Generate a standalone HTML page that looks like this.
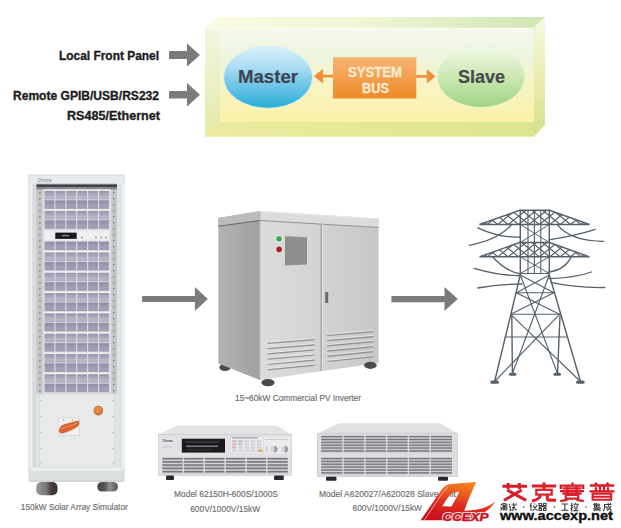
<!DOCTYPE html>
<html><head><meta charset="utf-8">
<style>
html,body{margin:0;padding:0;background:#fff;width:621px;height:528px;overflow:hidden}
svg{display:block}
text{font-family:"Liberation Sans",sans-serif}
</style></head>
<body>
<svg width="621" height="528" viewBox="0 0 621 528">
<defs>
  <linearGradient id="gTop" x1="0" y1="0" x2="1" y2="0">
    <stop offset="0" stop-color="#fbfbe2"/><stop offset="0.5" stop-color="#eef5d4"/><stop offset="1" stop-color="#cfe6b2"/>
  </linearGradient>
  <linearGradient id="gFront" x1="0" y1="0" x2="0" y2="1">
    <stop offset="0" stop-color="#f6f9ee"/><stop offset="0.25" stop-color="#eef5df"/><stop offset="0.6" stop-color="#f9f4be"/><stop offset="1" stop-color="#fcf19a"/>
  </linearGradient>
  <linearGradient id="gLeft" x1="0" y1="0" x2="0" y2="1">
    <stop offset="0" stop-color="#f3f6e2"/><stop offset="1" stop-color="#e4e9a6"/>
  </linearGradient>
  <linearGradient id="gBot" x1="0" y1="0" x2="1" y2="0">
    <stop offset="0" stop-color="#eceb9e"/><stop offset="1" stop-color="#dde590"/>
  </linearGradient>
  <linearGradient id="gRight" x1="0" y1="0" x2="0" y2="1">
    <stop offset="0" stop-color="#f6f8e6"/><stop offset="0.25" stop-color="#f0f2c8"/><stop offset="0.65" stop-color="#e8e9a2"/><stop offset="1" stop-color="#d2e08e"/>
  </linearGradient>
  <linearGradient id="gMaster" x1="0" y1="0" x2="0" y2="1">
    <stop offset="0" stop-color="#d8f0fb"/><stop offset="0.3" stop-color="#b2e0f4"/><stop offset="0.62" stop-color="#72c6e8"/><stop offset="1" stop-color="#26add6"/>
  </linearGradient>
  <linearGradient id="gSlave" x1="0" y1="0" x2="0" y2="1">
    <stop offset="0" stop-color="#f3f9ec"/><stop offset="0.45" stop-color="#d0eab8"/><stop offset="1" stop-color="#9fd484"/>
  </linearGradient>
  <linearGradient id="gBus" x1="0" y1="0" x2="0" y2="1">
    <stop offset="0" stop-color="#f8b476"/><stop offset="1" stop-color="#ee8a26"/>
  </linearGradient>
  <linearGradient id="gInvSide" x1="0" y1="0" x2="1" y2="0">
    <stop offset="0" stop-color="#b3b3b3"/><stop offset="1" stop-color="#a0a0a0"/>
  </linearGradient>
  <linearGradient id="gInvFront" x1="0" y1="0" x2="1" y2="0">
    <stop offset="0" stop-color="#dcdcdc"/><stop offset="0.5" stop-color="#d3d3d3"/><stop offset="1" stop-color="#c7c7c7"/>
  </linearGradient>
  <linearGradient id="gCell" x1="0" y1="0" x2="0" y2="1">
    <stop offset="0" stop-color="#928ca6"/><stop offset="0.3" stop-color="#9a94ae"/><stop offset="0.6" stop-color="#a49eb6"/><stop offset="1" stop-color="#a09ab2"/>
  </linearGradient>
  <linearGradient id="gCell1" x1="0" y1="0" x2="0" y2="1">
    <stop offset="0" stop-color="#9a94ac"/><stop offset="0.35" stop-color="#aaa4ba"/><stop offset="0.7" stop-color="#bbb6c8"/><stop offset="1" stop-color="#b0aabf"/>
  </linearGradient>
  <linearGradient id="gLogoA" x1="0.75" y1="0" x2="0.35" y2="1">
    <stop offset="0" stop-color="#f48a20"/><stop offset="0.35" stop-color="#ec5a1e"/><stop offset="0.6" stop-color="#e02a20"/><stop offset="1" stop-color="#c8101e"/>
  </linearGradient>
</defs>
<g font-weight="bold" font-size="12.6" fill="#1e1e1e" stroke="#1e1e1e" stroke-width="0.35">
  <text x="59" y="59.6" textLength="100" lengthAdjust="spacingAndGlyphs">Local Front Panel</text>
  <text x="13" y="99.6" textLength="146" lengthAdjust="spacingAndGlyphs">Remote GPIB/USB/RS232</text>
  <text x="67" y="120" textLength="93" lengthAdjust="spacingAndGlyphs">RS485/Ethernet</text>
</g>
<g fill="#7b7b7b">
  <polygon points="169,51 187,51 187,43.5 200,55 187,66.5 187,59 169,59"/>
  <polygon points="169,91 187,91 187,83 200,94.7 187,106.4 187,98.5 169,98.5"/>
</g>
<polygon points="205,28 217,17 545,17 534,28" fill="url(#gTop)"/>
<polygon points="534,28 545,17 545,125 534,136.5" fill="url(#gRight)"/>
<rect x="205" y="28" width="329" height="108.5" fill="url(#gFront)"/>
<polygon points="205,28 220,31 220,122 205,136.5" fill="url(#gLeft)"/>
<polygon points="205,136.5 220,122 534,122 534,136.5" fill="url(#gBot)"/>
<line x1="206" y1="28.3" x2="534" y2="28.3" stroke="#fbfdf4" stroke-width="1.2"/>
<line x1="534.3" y1="28" x2="545" y2="17.3" stroke="#f6faea" stroke-width="1"/>
<ellipse cx="268" cy="77.3" rx="44.5" ry="31" fill="url(#gMaster)" stroke="#d8f2f6" stroke-width="1"/>
<ellipse cx="481" cy="76.5" rx="44" ry="31" fill="url(#gSlave)" stroke="#eef6d8" stroke-width="1"/>
<text x="238" y="82.8" font-weight="bold" font-size="18" fill="#3e4450" stroke="#3e4450" stroke-width="0.2" textLength="60" lengthAdjust="spacingAndGlyphs">Master</text>
<text x="458" y="82.8" font-weight="bold" font-size="18" fill="#464a4e" stroke="#464a4e" stroke-width="0.2" textLength="47" lengthAdjust="spacingAndGlyphs">Slave</text>
<rect x="333" y="57.2" width="83.3" height="41.3" fill="url(#gBus)"/>
<g font-weight="bold" font-size="14" fill="#fdecd2" stroke="#fdecd2" stroke-width="0.3">
  <text x="348" y="76.6" textLength="54" lengthAdjust="spacingAndGlyphs">SYSTEM</text>
  <text x="362" y="92.7" textLength="27" lengthAdjust="spacingAndGlyphs">BUS</text>
</g>
<g fill="#f0903a">
  <polygon points="314,76.2 323,68.8 323,74.8 333,74.8 333,77.6 323,77.6 323,83.6"/>
  <polygon points="435.6,76.4 426.8,69.2 426.8,75 416.3,75 416.3,77.8 426.8,77.8 426.8,83.6"/>
</g>
<g id="rack"><rect x="29" y="175" width="95" height="306" fill="#e2e6e8"/><rect x="29" y="175" width="95" height="9" fill="#e6ebee"/><rect x="29" y="175" width="95" height="306" fill="none" stroke="#c8ccd0" stroke-width="0.8"/><text x="37.5" y="181.8" font-size="4.6" fill="#7a8088" textLength="14" lengthAdjust="spacingAndGlyphs">Chroma</text><rect x="29.5" y="184" width="3" height="284" fill="#eaeef0"/><rect x="32.5" y="184" width="4" height="284" fill="#d6dadd"/><rect x="117" y="184" width="5" height="284" fill="#dfe3e6"/><rect x="122" y="184" width="2" height="284" fill="#f0f2f4"/><rect x="36.5" y="184" width="7" height="210" fill="#c2c4c6"/><rect x="110.3" y="184" width="6.5" height="210" fill="#c2c4c6"/><rect x="42.5" y="189" width="1.2" height="205" fill="#e0e0e4"/><rect x="110.2" y="189" width="1.2" height="205" fill="#e0e0e4"/><rect x="39.2" y="192" width="1.4" height="1.4" fill="#85858b"/><rect x="113" y="192" width="1.4" height="1.4" fill="#85858b"/><rect x="39.2" y="198" width="1.4" height="1.4" fill="#85858b"/><rect x="113" y="198" width="1.4" height="1.4" fill="#85858b"/><rect x="39.2" y="204" width="1.4" height="1.4" fill="#85858b"/><rect x="113" y="204" width="1.4" height="1.4" fill="#85858b"/><rect x="39.2" y="210" width="1.4" height="1.4" fill="#85858b"/><rect x="113" y="210" width="1.4" height="1.4" fill="#85858b"/><rect x="39.2" y="216" width="1.4" height="1.4" fill="#85858b"/><rect x="113" y="216" width="1.4" height="1.4" fill="#85858b"/><rect x="39.2" y="222" width="1.4" height="1.4" fill="#85858b"/><rect x="113" y="222" width="1.4" height="1.4" fill="#85858b"/><rect x="39.2" y="228" width="1.4" height="1.4" fill="#85858b"/><rect x="113" y="228" width="1.4" height="1.4" fill="#85858b"/><rect x="39.2" y="234" width="1.4" height="1.4" fill="#85858b"/><rect x="113" y="234" width="1.4" height="1.4" fill="#85858b"/><rect x="39.2" y="240" width="1.4" height="1.4" fill="#85858b"/><rect x="113" y="240" width="1.4" height="1.4" fill="#85858b"/><rect x="39.2" y="246" width="1.4" height="1.4" fill="#85858b"/><rect x="113" y="246" width="1.4" height="1.4" fill="#85858b"/><rect x="39.2" y="252" width="1.4" height="1.4" fill="#85858b"/><rect x="113" y="252" width="1.4" height="1.4" fill="#85858b"/><rect x="39.2" y="258" width="1.4" height="1.4" fill="#85858b"/><rect x="113" y="258" width="1.4" height="1.4" fill="#85858b"/><rect x="39.2" y="264" width="1.4" height="1.4" fill="#85858b"/><rect x="113" y="264" width="1.4" height="1.4" fill="#85858b"/><rect x="39.2" y="270" width="1.4" height="1.4" fill="#85858b"/><rect x="113" y="270" width="1.4" height="1.4" fill="#85858b"/><rect x="39.2" y="276" width="1.4" height="1.4" fill="#85858b"/><rect x="113" y="276" width="1.4" height="1.4" fill="#85858b"/><rect x="39.2" y="282" width="1.4" height="1.4" fill="#85858b"/><rect x="113" y="282" width="1.4" height="1.4" fill="#85858b"/><rect x="39.2" y="288" width="1.4" height="1.4" fill="#85858b"/><rect x="113" y="288" width="1.4" height="1.4" fill="#85858b"/><rect x="39.2" y="294" width="1.4" height="1.4" fill="#85858b"/><rect x="113" y="294" width="1.4" height="1.4" fill="#85858b"/><rect x="39.2" y="300" width="1.4" height="1.4" fill="#85858b"/><rect x="113" y="300" width="1.4" height="1.4" fill="#85858b"/><rect x="39.2" y="306" width="1.4" height="1.4" fill="#85858b"/><rect x="113" y="306" width="1.4" height="1.4" fill="#85858b"/><rect x="39.2" y="312" width="1.4" height="1.4" fill="#85858b"/><rect x="113" y="312" width="1.4" height="1.4" fill="#85858b"/><rect x="39.2" y="318" width="1.4" height="1.4" fill="#85858b"/><rect x="113" y="318" width="1.4" height="1.4" fill="#85858b"/><rect x="39.2" y="324" width="1.4" height="1.4" fill="#85858b"/><rect x="113" y="324" width="1.4" height="1.4" fill="#85858b"/><rect x="39.2" y="330" width="1.4" height="1.4" fill="#85858b"/><rect x="113" y="330" width="1.4" height="1.4" fill="#85858b"/><rect x="39.2" y="336" width="1.4" height="1.4" fill="#85858b"/><rect x="113" y="336" width="1.4" height="1.4" fill="#85858b"/><rect x="39.2" y="342" width="1.4" height="1.4" fill="#85858b"/><rect x="113" y="342" width="1.4" height="1.4" fill="#85858b"/><rect x="39.2" y="348" width="1.4" height="1.4" fill="#85858b"/><rect x="113" y="348" width="1.4" height="1.4" fill="#85858b"/><rect x="39.2" y="354" width="1.4" height="1.4" fill="#85858b"/><rect x="113" y="354" width="1.4" height="1.4" fill="#85858b"/><rect x="39.2" y="360" width="1.4" height="1.4" fill="#85858b"/><rect x="113" y="360" width="1.4" height="1.4" fill="#85858b"/><rect x="39.2" y="366" width="1.4" height="1.4" fill="#85858b"/><rect x="113" y="366" width="1.4" height="1.4" fill="#85858b"/><rect x="39.2" y="372" width="1.4" height="1.4" fill="#85858b"/><rect x="113" y="372" width="1.4" height="1.4" fill="#85858b"/><rect x="39.2" y="378" width="1.4" height="1.4" fill="#85858b"/><rect x="113" y="378" width="1.4" height="1.4" fill="#85858b"/><rect x="39.2" y="384" width="1.4" height="1.4" fill="#85858b"/><rect x="113" y="384" width="1.4" height="1.4" fill="#85858b"/><rect x="39.2" y="390" width="1.4" height="1.4" fill="#85858b"/><rect x="113" y="390" width="1.4" height="1.4" fill="#85858b"/><rect x="36.5" y="183.6" width="80.5" height="0.8" fill="#a8b0b4"/><rect x="36.5" y="184.4" width="80.5" height="2.8" fill="#404146"/><rect x="36.5" y="187.2" width="80.5" height="2.2" fill="#808086"/><rect x="43.5" y="189.5" width="66.8" height="204" fill="#dcdce2"/><rect x="44" y="189.50" width="66" height="1.8" fill="#f6f6f8"/><rect x="44.60" y="190.80" width="9.8" height="8.6" fill="url(#gCell1)"/><rect x="44.60" y="200.30" width="9.8" height="8.5" fill="url(#gCell)"/><rect x="55.50" y="190.80" width="9.8" height="8.6" fill="url(#gCell1)"/><rect x="55.50" y="200.30" width="9.8" height="8.5" fill="url(#gCell)"/><rect x="66.40" y="190.80" width="9.8" height="8.6" fill="url(#gCell1)"/><rect x="66.40" y="200.30" width="9.8" height="8.5" fill="url(#gCell)"/><rect x="77.30" y="190.80" width="9.8" height="8.6" fill="url(#gCell1)"/><rect x="77.30" y="200.30" width="9.8" height="8.5" fill="url(#gCell)"/><rect x="88.20" y="190.80" width="9.8" height="8.6" fill="url(#gCell1)"/><rect x="88.20" y="200.30" width="9.8" height="8.5" fill="url(#gCell)"/><rect x="99.10" y="190.80" width="9.8" height="8.6" fill="url(#gCell1)"/><rect x="99.10" y="200.30" width="9.8" height="8.5" fill="url(#gCell)"/><rect x="44" y="209.50" width="66" height="1.8" fill="#f6f6f8"/><rect x="44.60" y="210.80" width="9.8" height="8.6" fill="url(#gCell1)"/><rect x="44.60" y="220.30" width="9.8" height="8.5" fill="url(#gCell)"/><rect x="55.50" y="210.80" width="9.8" height="8.6" fill="url(#gCell1)"/><rect x="55.50" y="220.30" width="9.8" height="8.5" fill="url(#gCell)"/><rect x="66.40" y="210.80" width="9.8" height="8.6" fill="url(#gCell1)"/><rect x="66.40" y="220.30" width="9.8" height="8.5" fill="url(#gCell)"/><rect x="77.30" y="210.80" width="9.8" height="8.6" fill="url(#gCell1)"/><rect x="77.30" y="220.30" width="9.8" height="8.5" fill="url(#gCell)"/><rect x="88.20" y="210.80" width="9.8" height="8.6" fill="url(#gCell1)"/><rect x="88.20" y="220.30" width="9.8" height="8.5" fill="url(#gCell)"/><rect x="99.10" y="210.80" width="9.8" height="8.6" fill="url(#gCell1)"/><rect x="99.10" y="220.30" width="9.8" height="8.5" fill="url(#gCell)"/><rect x="44" y="230.5" width="65.5" height="10" fill="#efeff1"/><rect x="55.3" y="232.6" width="21.4" height="6.3" fill="#1c1c20"/><rect x="62" y="235" width="7" height="1.2" fill="#8a8aa0"/><circle cx="82" cy="237.5" r="0.9" fill="#9a9aa0"/><circle cx="96" cy="237.5" r="0.9" fill="#9a9aa0"/><circle cx="101" cy="237.5" r="0.9" fill="#9a9aa0"/><circle cx="106" cy="237.5" r="0.9" fill="#9a9aa0"/><rect x="44.60" y="241.60" width="9.8" height="8.4" fill="url(#gCell)"/><rect x="55.50" y="241.60" width="9.8" height="8.4" fill="url(#gCell)"/><rect x="66.40" y="241.60" width="9.8" height="8.4" fill="url(#gCell)"/><rect x="77.30" y="241.60" width="9.8" height="8.4" fill="url(#gCell)"/><rect x="88.20" y="241.60" width="9.8" height="8.4" fill="url(#gCell)"/><rect x="99.10" y="241.60" width="9.8" height="8.4" fill="url(#gCell)"/><rect x="44" y="251.10" width="66" height="1.8" fill="#f6f6f8"/><rect x="44.60" y="252.40" width="9.8" height="8.6" fill="url(#gCell1)"/><rect x="44.60" y="261.90" width="9.8" height="8.5" fill="url(#gCell)"/><rect x="55.50" y="252.40" width="9.8" height="8.6" fill="url(#gCell1)"/><rect x="55.50" y="261.90" width="9.8" height="8.5" fill="url(#gCell)"/><rect x="66.40" y="252.40" width="9.8" height="8.6" fill="url(#gCell1)"/><rect x="66.40" y="261.90" width="9.8" height="8.5" fill="url(#gCell)"/><rect x="77.30" y="252.40" width="9.8" height="8.6" fill="url(#gCell1)"/><rect x="77.30" y="261.90" width="9.8" height="8.5" fill="url(#gCell)"/><rect x="88.20" y="252.40" width="9.8" height="8.6" fill="url(#gCell1)"/><rect x="88.20" y="261.90" width="9.8" height="8.5" fill="url(#gCell)"/><rect x="99.10" y="252.40" width="9.8" height="8.6" fill="url(#gCell1)"/><rect x="99.10" y="261.90" width="9.8" height="8.5" fill="url(#gCell)"/><rect x="44" y="271.40" width="66" height="1.8" fill="#f6f6f8"/><rect x="44.60" y="272.70" width="9.8" height="8.6" fill="url(#gCell1)"/><rect x="44.60" y="282.20" width="9.8" height="8.5" fill="url(#gCell)"/><rect x="55.50" y="272.70" width="9.8" height="8.6" fill="url(#gCell1)"/><rect x="55.50" y="282.20" width="9.8" height="8.5" fill="url(#gCell)"/><rect x="66.40" y="272.70" width="9.8" height="8.6" fill="url(#gCell1)"/><rect x="66.40" y="282.20" width="9.8" height="8.5" fill="url(#gCell)"/><rect x="77.30" y="272.70" width="9.8" height="8.6" fill="url(#gCell1)"/><rect x="77.30" y="282.20" width="9.8" height="8.5" fill="url(#gCell)"/><rect x="88.20" y="272.70" width="9.8" height="8.6" fill="url(#gCell1)"/><rect x="88.20" y="282.20" width="9.8" height="8.5" fill="url(#gCell)"/><rect x="99.10" y="272.70" width="9.8" height="8.6" fill="url(#gCell1)"/><rect x="99.10" y="282.20" width="9.8" height="8.5" fill="url(#gCell)"/><rect x="44" y="291.70" width="66" height="1.8" fill="#f6f6f8"/><rect x="44.60" y="293.00" width="9.8" height="8.6" fill="url(#gCell1)"/><rect x="44.60" y="302.50" width="9.8" height="8.5" fill="url(#gCell)"/><rect x="55.50" y="293.00" width="9.8" height="8.6" fill="url(#gCell1)"/><rect x="55.50" y="302.50" width="9.8" height="8.5" fill="url(#gCell)"/><rect x="66.40" y="293.00" width="9.8" height="8.6" fill="url(#gCell1)"/><rect x="66.40" y="302.50" width="9.8" height="8.5" fill="url(#gCell)"/><rect x="77.30" y="293.00" width="9.8" height="8.6" fill="url(#gCell1)"/><rect x="77.30" y="302.50" width="9.8" height="8.5" fill="url(#gCell)"/><rect x="88.20" y="293.00" width="9.8" height="8.6" fill="url(#gCell1)"/><rect x="88.20" y="302.50" width="9.8" height="8.5" fill="url(#gCell)"/><rect x="99.10" y="293.00" width="9.8" height="8.6" fill="url(#gCell1)"/><rect x="99.10" y="302.50" width="9.8" height="8.5" fill="url(#gCell)"/><rect x="44" y="312.00" width="66" height="1.8" fill="#f6f6f8"/><rect x="44.60" y="313.30" width="9.8" height="8.6" fill="url(#gCell1)"/><rect x="44.60" y="322.80" width="9.8" height="8.5" fill="url(#gCell)"/><rect x="55.50" y="313.30" width="9.8" height="8.6" fill="url(#gCell1)"/><rect x="55.50" y="322.80" width="9.8" height="8.5" fill="url(#gCell)"/><rect x="66.40" y="313.30" width="9.8" height="8.6" fill="url(#gCell1)"/><rect x="66.40" y="322.80" width="9.8" height="8.5" fill="url(#gCell)"/><rect x="77.30" y="313.30" width="9.8" height="8.6" fill="url(#gCell1)"/><rect x="77.30" y="322.80" width="9.8" height="8.5" fill="url(#gCell)"/><rect x="88.20" y="313.30" width="9.8" height="8.6" fill="url(#gCell1)"/><rect x="88.20" y="322.80" width="9.8" height="8.5" fill="url(#gCell)"/><rect x="99.10" y="313.30" width="9.8" height="8.6" fill="url(#gCell1)"/><rect x="99.10" y="322.80" width="9.8" height="8.5" fill="url(#gCell)"/><rect x="44" y="332.30" width="66" height="1.8" fill="#f6f6f8"/><rect x="44.60" y="333.60" width="9.8" height="8.6" fill="url(#gCell1)"/><rect x="44.60" y="343.10" width="9.8" height="8.5" fill="url(#gCell)"/><rect x="55.50" y="333.60" width="9.8" height="8.6" fill="url(#gCell1)"/><rect x="55.50" y="343.10" width="9.8" height="8.5" fill="url(#gCell)"/><rect x="66.40" y="333.60" width="9.8" height="8.6" fill="url(#gCell1)"/><rect x="66.40" y="343.10" width="9.8" height="8.5" fill="url(#gCell)"/><rect x="77.30" y="333.60" width="9.8" height="8.6" fill="url(#gCell1)"/><rect x="77.30" y="343.10" width="9.8" height="8.5" fill="url(#gCell)"/><rect x="88.20" y="333.60" width="9.8" height="8.6" fill="url(#gCell1)"/><rect x="88.20" y="343.10" width="9.8" height="8.5" fill="url(#gCell)"/><rect x="99.10" y="333.60" width="9.8" height="8.6" fill="url(#gCell1)"/><rect x="99.10" y="343.10" width="9.8" height="8.5" fill="url(#gCell)"/><rect x="44" y="352.60" width="66" height="1.8" fill="#f6f6f8"/><rect x="44.60" y="353.90" width="9.8" height="8.6" fill="url(#gCell1)"/><rect x="44.60" y="363.40" width="9.8" height="8.5" fill="url(#gCell)"/><rect x="55.50" y="353.90" width="9.8" height="8.6" fill="url(#gCell1)"/><rect x="55.50" y="363.40" width="9.8" height="8.5" fill="url(#gCell)"/><rect x="66.40" y="353.90" width="9.8" height="8.6" fill="url(#gCell1)"/><rect x="66.40" y="363.40" width="9.8" height="8.5" fill="url(#gCell)"/><rect x="77.30" y="353.90" width="9.8" height="8.6" fill="url(#gCell1)"/><rect x="77.30" y="363.40" width="9.8" height="8.5" fill="url(#gCell)"/><rect x="88.20" y="353.90" width="9.8" height="8.6" fill="url(#gCell1)"/><rect x="88.20" y="363.40" width="9.8" height="8.5" fill="url(#gCell)"/><rect x="99.10" y="353.90" width="9.8" height="8.6" fill="url(#gCell1)"/><rect x="99.10" y="363.40" width="9.8" height="8.5" fill="url(#gCell)"/><rect x="44" y="372.90" width="66" height="1.8" fill="#f6f6f8"/><rect x="44.60" y="374.20" width="9.8" height="8.6" fill="url(#gCell1)"/><rect x="44.60" y="383.70" width="9.8" height="8.5" fill="url(#gCell)"/><rect x="55.50" y="374.20" width="9.8" height="8.6" fill="url(#gCell1)"/><rect x="55.50" y="383.70" width="9.8" height="8.5" fill="url(#gCell)"/><rect x="66.40" y="374.20" width="9.8" height="8.6" fill="url(#gCell1)"/><rect x="66.40" y="383.70" width="9.8" height="8.5" fill="url(#gCell)"/><rect x="77.30" y="374.20" width="9.8" height="8.6" fill="url(#gCell1)"/><rect x="77.30" y="383.70" width="9.8" height="8.5" fill="url(#gCell)"/><rect x="88.20" y="374.20" width="9.8" height="8.6" fill="url(#gCell1)"/><rect x="88.20" y="383.70" width="9.8" height="8.5" fill="url(#gCell)"/><rect x="99.10" y="374.20" width="9.8" height="8.6" fill="url(#gCell1)"/><rect x="99.10" y="383.70" width="9.8" height="8.5" fill="url(#gCell)"/><rect x="36.5" y="393.5" width="80.5" height="74" fill="#e1e3e4"/><rect x="39.5" y="394" width="75" height="73" fill="#e8eaea" stroke="#d0d2d4" stroke-width="0.6"/><rect x="40.6" y="400" width="1.1" height="1.1" fill="#a8aaac"/><rect x="112.4" y="400" width="1.1" height="1.1" fill="#a8aaac"/><rect x="40.6" y="416" width="1.1" height="1.1" fill="#a8aaac"/><rect x="112.4" y="416" width="1.1" height="1.1" fill="#a8aaac"/><rect x="40.6" y="432" width="1.1" height="1.1" fill="#a8aaac"/><rect x="112.4" y="432" width="1.1" height="1.1" fill="#a8aaac"/><rect x="40.6" y="448" width="1.1" height="1.1" fill="#a8aaac"/><rect x="112.4" y="448" width="1.1" height="1.1" fill="#a8aaac"/><rect x="40.6" y="462" width="1.1" height="1.1" fill="#a8aaac"/><rect x="112.4" y="462" width="1.1" height="1.1" fill="#a8aaac"/><rect x="58.2" y="418" width="21.5" height="17.5" fill="#f0f0f0" stroke="#cfcfd1" stroke-width="0.6"/><rect x="63" y="419.5" width="1.2" height="1.2" fill="#d08060"/><rect x="72" y="419.5" width="1.2" height="1.2" fill="#d08060"/><path d="M59,431 C59,426.5 62,424.5 67,423.5 C71.5,422.5 76,421 78.8,420.5 C79.8,422.5 79.5,425 77.5,426.8 C74,429.5 68,432 62,433.5 C60.5,433.8 59.2,432.8 59,431 Z" fill="#d8642e"/><path d="M61,429 C65,427 71,426 77,423.3" stroke="#ee9868" stroke-width="1" fill="none"/><circle cx="98.3" cy="410.6" r="4.8" fill="#c86a34"/><circle cx="98" cy="410.2" r="3.6" fill="#e48a48"/><rect x="30" y="467.5" width="93" height="14" fill="#dcdfe0"/><rect x="30" y="467.5" width="93" height="3.5" fill="#eceeef"/><rect x="30" y="480.6" width="93" height="0.9" fill="#c4c6c8"/><linearGradient id="gWL" x1="0" y1="0" x2="1" y2="0"><stop offset="0" stop-color="#9a9a98"/><stop offset="0.45" stop-color="#7e7c7a"/><stop offset="0.7" stop-color="#4a3e3c"/><stop offset="1" stop-color="#3a302e"/></linearGradient><linearGradient id="gWR" x1="0" y1="0" x2="1" y2="0"><stop offset="0" stop-color="#4a4242"/><stop offset="0.35" stop-color="#5a5454"/><stop offset="0.6" stop-color="#8e8e8e"/><stop offset="1" stop-color="#5a5656"/></linearGradient><rect x="36.2" y="482" width="21.3" height="13.2" rx="5" fill="url(#gWL)"/><rect x="97.3" y="482" width="20.6" height="9.6" rx="4.5" fill="url(#gWR)"/></g><g fill="#7b7b7b"><polygon points="142.1,296.1 194.9,296.1 194.9,287.1 207.8,299 194.9,310.9 194.9,302 142.1,302"/><polygon points="391.4,296.1 444.5,296.1 444.5,287.1 457.8,299 444.5,310.9 444.5,302.2 391.4,302.2"/></g><g id="inverter"><ellipse cx="225" cy="367.4" rx="5.6" ry="3.6" fill="#4a4a4c"/><polygon points="218.3,218 259.8,211 259.8,380 218.3,363.5" fill="url(#gInvSide)"/><polygon points="218.3,218 259.8,211 259.8,220.5 218.3,226.3" fill="#bcbcbc"/><line x1="218.3" y1="226.3" x2="259.8" y2="220.5" stroke="#5a5a5a" stroke-width="0.9"/><polygon points="259.8,211 378.6,218.5 378.6,363 259.8,380" fill="url(#gInvFront)"/><polygon points="259.8,211 378.6,218.5 378.6,227.5 259.8,220.5" fill="#dcdcdc"/><line x1="259.8" y1="211.4" x2="378.6" y2="218.9" stroke="#ececec" stroke-width="0.8"/><line x1="259.8" y1="220.5" x2="378.6" y2="227.5" stroke="#8a8a8a" stroke-width="0.9"/><line x1="259.8" y1="211.5" x2="259.8" y2="380" stroke="#9a9a9a" stroke-width="0.6"/><line x1="321.2" y1="224.5" x2="321.2" y2="371" stroke="#8c8c8c" stroke-width="1"/><line x1="322.4" y1="224.5" x2="322.4" y2="371" stroke="#ececec" stroke-width="0.8"/><polygon points="285,236.3 307,237.3 307,264.5 285,265.6" fill="#8e8e8e"/><circle cx="279.1" cy="238.8" r="3.7" fill="#eef2ee"/><circle cx="279.1" cy="238.8" r="2.8" fill="#3cac4c"/><circle cx="279.1" cy="249.4" r="3.7" fill="#f4e8e8"/><circle cx="279.1" cy="249.4" r="2.8" fill="#a81c22"/><rect x="325.2" y="292" width="3" height="11" fill="#6a6a6a"/><line x1="267.6" y1="342.1" x2="314.6" y2="338.5" stroke="#e6e6e6" stroke-width="1.4"/><line x1="267.6" y1="343.3" x2="314.6" y2="339.7" stroke="#909090" stroke-width="1.2"/><line x1="327.2" y1="334.3" x2="373.2" y2="330.5" stroke="#e2e2e2" stroke-width="1.4"/><line x1="327.2" y1="335.5" x2="373.2" y2="331.7" stroke="#8e8e8e" stroke-width="1.2"/><line x1="267.6" y1="347.4" x2="314.6" y2="343.6" stroke="#e6e6e6" stroke-width="1.4"/><line x1="267.6" y1="348.6" x2="314.6" y2="344.8" stroke="#909090" stroke-width="1.2"/><line x1="327.2" y1="339.5" x2="373.2" y2="335.5" stroke="#e2e2e2" stroke-width="1.4"/><line x1="327.2" y1="340.7" x2="373.2" y2="336.7" stroke="#8e8e8e" stroke-width="1.2"/><line x1="267.6" y1="352.7" x2="314.6" y2="348.7" stroke="#e6e6e6" stroke-width="1.4"/><line x1="267.6" y1="353.9" x2="314.6" y2="349.9" stroke="#909090" stroke-width="1.2"/><line x1="327.2" y1="344.7" x2="373.2" y2="340.5" stroke="#e2e2e2" stroke-width="1.4"/><line x1="327.2" y1="345.9" x2="373.2" y2="341.7" stroke="#8e8e8e" stroke-width="1.2"/><line x1="267.6" y1="358.0" x2="314.6" y2="353.8" stroke="#e6e6e6" stroke-width="1.4"/><line x1="267.6" y1="359.2" x2="314.6" y2="355.0" stroke="#909090" stroke-width="1.2"/><line x1="327.2" y1="349.9" x2="373.2" y2="345.5" stroke="#e2e2e2" stroke-width="1.4"/><line x1="327.2" y1="351.1" x2="373.2" y2="346.7" stroke="#8e8e8e" stroke-width="1.2"/><line x1="267.6" y1="363.3" x2="314.6" y2="358.9" stroke="#e6e6e6" stroke-width="1.4"/><line x1="267.6" y1="364.5" x2="314.6" y2="360.1" stroke="#909090" stroke-width="1.2"/><line x1="327.2" y1="355.1" x2="373.2" y2="350.5" stroke="#e2e2e2" stroke-width="1.4"/><line x1="327.2" y1="356.3" x2="373.2" y2="351.7" stroke="#8e8e8e" stroke-width="1.2"/><line x1="267.6" y1="368.6" x2="314.6" y2="364.0" stroke="#e6e6e6" stroke-width="1.4"/><line x1="267.6" y1="369.8" x2="314.6" y2="365.2" stroke="#909090" stroke-width="1.2"/><line x1="327.2" y1="360.3" x2="373.2" y2="355.5" stroke="#e2e2e2" stroke-width="1.4"/><line x1="327.2" y1="361.5" x2="373.2" y2="356.7" stroke="#8e8e8e" stroke-width="1.2"/><ellipse cx="268" cy="382.6" rx="6.6" ry="3.6" fill="#4a4a4c"/><ellipse cx="370.4" cy="365.3" rx="6.3" ry="3.6" fill="#4a4a4c"/></g><g id="tower" stroke="#56606a" fill="none" stroke-width="1.4" stroke-linecap="round"><clipPath id="ca0"><polygon points="519.5,210.3 549.5,210.3 589.5,224.5 479.5,224.5"/></clipPath><polygon points="519.5,210.3 549.5,210.3 589.5,224.5 479.5,224.5"/><g clip-path="url(#ca0)" stroke-width="1.15"><line x1="445.8" y1="224.5" x2="463.6" y2="210.3"/><line x1="445.8" y1="224.5" x2="428.1" y2="210.3"/><line x1="456.2" y1="224.5" x2="473.9" y2="210.3"/><line x1="456.2" y1="224.5" x2="438.4" y2="210.3"/><line x1="466.6" y1="224.5" x2="484.4" y2="210.3"/><line x1="466.6" y1="224.5" x2="448.9" y2="210.3"/><line x1="477.0" y1="224.5" x2="494.8" y2="210.3"/><line x1="477.0" y1="224.5" x2="459.2" y2="210.3"/><line x1="487.4" y1="224.5" x2="505.1" y2="210.3"/><line x1="487.4" y1="224.5" x2="469.6" y2="210.3"/><line x1="497.8" y1="224.5" x2="515.5" y2="210.3"/><line x1="497.8" y1="224.5" x2="480.1" y2="210.3"/><line x1="508.2" y1="224.5" x2="525.9" y2="210.3"/><line x1="508.2" y1="224.5" x2="490.4" y2="210.3"/><line x1="518.6" y1="224.5" x2="536.4" y2="210.3"/><line x1="518.6" y1="224.5" x2="500.9" y2="210.3"/><line x1="529.0" y1="224.5" x2="546.8" y2="210.3"/><line x1="529.0" y1="224.5" x2="511.2" y2="210.3"/><line x1="539.4" y1="224.5" x2="557.1" y2="210.3"/><line x1="539.4" y1="224.5" x2="521.6" y2="210.3"/><line x1="549.8" y1="224.5" x2="567.5" y2="210.3"/><line x1="549.8" y1="224.5" x2="532.0" y2="210.3"/><line x1="560.2" y1="224.5" x2="578.0" y2="210.3"/><line x1="560.2" y1="224.5" x2="542.5" y2="210.3"/><line x1="570.6" y1="224.5" x2="588.4" y2="210.3"/><line x1="570.6" y1="224.5" x2="552.9" y2="210.3"/><line x1="581.0" y1="224.5" x2="598.8" y2="210.3"/><line x1="581.0" y1="224.5" x2="563.2" y2="210.3"/><line x1="591.4" y1="224.5" x2="609.1" y2="210.3"/><line x1="591.4" y1="224.5" x2="573.6" y2="210.3"/><line x1="601.8" y1="224.5" x2="619.5" y2="210.3"/><line x1="601.8" y1="224.5" x2="584.0" y2="210.3"/></g><clipPath id="ca1"><polygon points="519.5,242.5 549.5,242.5 589.5,256.8 479.5,256.8"/></clipPath><polygon points="519.5,242.5 549.5,242.5 589.5,256.8 479.5,256.8"/><g clip-path="url(#ca1)" stroke-width="1.15"><line x1="445.8" y1="256.8" x2="463.7" y2="242.5"/><line x1="445.8" y1="256.8" x2="427.9" y2="242.5"/><line x1="456.2" y1="256.8" x2="474.1" y2="242.5"/><line x1="456.2" y1="256.8" x2="438.3" y2="242.5"/><line x1="466.6" y1="256.8" x2="484.5" y2="242.5"/><line x1="466.6" y1="256.8" x2="448.7" y2="242.5"/><line x1="477.0" y1="256.8" x2="494.9" y2="242.5"/><line x1="477.0" y1="256.8" x2="459.1" y2="242.5"/><line x1="487.4" y1="256.8" x2="505.3" y2="242.5"/><line x1="487.4" y1="256.8" x2="469.5" y2="242.5"/><line x1="497.8" y1="256.8" x2="515.7" y2="242.5"/><line x1="497.8" y1="256.8" x2="479.9" y2="242.5"/><line x1="508.2" y1="256.8" x2="526.1" y2="242.5"/><line x1="508.2" y1="256.8" x2="490.3" y2="242.5"/><line x1="518.6" y1="256.8" x2="536.5" y2="242.5"/><line x1="518.6" y1="256.8" x2="500.7" y2="242.5"/><line x1="529.0" y1="256.8" x2="546.9" y2="242.5"/><line x1="529.0" y1="256.8" x2="511.1" y2="242.5"/><line x1="539.4" y1="256.8" x2="557.3" y2="242.5"/><line x1="539.4" y1="256.8" x2="521.5" y2="242.5"/><line x1="549.8" y1="256.8" x2="567.7" y2="242.5"/><line x1="549.8" y1="256.8" x2="531.9" y2="242.5"/><line x1="560.2" y1="256.8" x2="578.1" y2="242.5"/><line x1="560.2" y1="256.8" x2="542.3" y2="242.5"/><line x1="570.6" y1="256.8" x2="588.5" y2="242.5"/><line x1="570.6" y1="256.8" x2="552.7" y2="242.5"/><line x1="581.0" y1="256.8" x2="598.9" y2="242.5"/><line x1="581.0" y1="256.8" x2="563.1" y2="242.5"/><line x1="591.4" y1="256.8" x2="609.3" y2="242.5"/><line x1="591.4" y1="256.8" x2="573.5" y2="242.5"/><line x1="601.8" y1="256.8" x2="619.7" y2="242.5"/><line x1="601.8" y1="256.8" x2="583.9" y2="242.5"/></g><line x1="520.3" y1="210.3" x2="520.3" y2="276"/><line x1="549.3" y1="210.3" x2="549.3" y2="276"/><line x1="528" y1="210.3" x2="528" y2="273.5" stroke-width="1.1"/><line x1="534.4" y1="210.3" x2="534.4" y2="273.5" stroke-width="1.1"/><line x1="540.8" y1="210.3" x2="540.8" y2="273.5" stroke-width="1.1"/><line x1="520.3" y1="224.5" x2="549.3" y2="242.5" stroke-width="1"/><line x1="549.3" y1="224.5" x2="520.3" y2="242.5" stroke-width="1"/><line x1="520.3" y1="256.8" x2="549.3" y2="273.5" stroke-width="1"/><line x1="549.3" y1="256.8" x2="520.3" y2="273.5" stroke-width="1"/><line x1="520.3" y1="273.5" x2="549.3" y2="273.5" stroke-width="1.1"/><line x1="520.3" y1="275" x2="494.6" y2="381.5"/><line x1="549.3" y1="275" x2="580.5" y2="381.5"/><line x1="511.8" y1="316" x2="512.4" y2="373.5"/><line x1="560" y1="316" x2="557.5" y2="373.5"/><line x1="516.4" y1="292.7" x2="553.9" y2="292.7" stroke-width="1.1"/><line x1="510.7" y1="314.3" x2="559.5" y2="314.3" stroke-width="1.1"/><line x1="505" y1="337" x2="566.4" y2="337" stroke-width="1.1"/><line x1="520.3" y1="275" x2="553.9" y2="292.7" stroke-width="1.1"/><line x1="549.3" y1="275" x2="516.4" y2="292.7" stroke-width="1.1"/><line x1="516.4" y1="292.7" x2="559.5" y2="314.3" stroke-width="1.1"/><line x1="553.9" y1="292.7" x2="510.7" y2="314.3" stroke-width="1.1"/><line x1="520.3" y1="275" x2="557.5" y2="373.5" stroke-width="1.1"/><line x1="549.3" y1="275" x2="512.4" y2="373.5" stroke-width="1.1"/><line x1="510.7" y1="314.3" x2="580.5" y2="381.5" stroke-width="1.1"/><line x1="559.5" y1="314.3" x2="494.6" y2="381.5" stroke-width="1.1"/><path d="M477.8,227.8 Q500,238 520,237" stroke-width="1.3"/><path d="M469.3,245.3 Q498,240 512,224.3" stroke-width="1.3"/><path d="M474.2,268.4 Q500,276 520.5,275.5" stroke-width="1.3"/><path d="M492,256.3 Q505,271 520.5,274" stroke-width="1.3"/><path d="M477.8,288 Q500,284 522,284" stroke-width="1.3"/><path d="M548.8,239.8 Q575,236 595.2,229.4" stroke-width="1.3"/><path d="M557.3,224.6 Q570,241 603.7,241.3" stroke-width="1.3"/><path d="M571.5,256.4 Q565,270 548.8,272" stroke-width="1.3"/><path d="M548.8,278.6 Q575,278 591.4,272" stroke-width="1.3"/><path d="M550.7,282.4 Q575,288 604.7,287.5" stroke-width="1.3"/></g><g fill="#56606a"><rect x="490.4" y="380.6" width="8.5" height="3.2" rx="1.5"/><rect x="508.9" y="372.7" width="7.5" height="3" rx="1.5"/><rect x="553.5" y="372.7" width="7.5" height="3" rx="1.5"/><rect x="576.1" y="380.6" width="8.5" height="3.2" rx="1.5"/></g><g id="dev1"><polygon points="176.7,425.4 276.7,425.4 291,434.2 158.6,434.5" fill="#e4e4e6"/><rect x="158.6" y="434.3" width="132.8" height="41.2" fill="#e2e2e4"/><rect x="158.6" y="434.3" width="132.8" height="41.2" fill="none" stroke="#c4c4c6" stroke-width="0.6"/><rect x="181.8" y="438.7" width="43.2" height="13.9" fill="#1c1a1c"/><rect x="185" y="441.5" width="34" height="0.9" fill="#505056"/><rect x="186" y="445.6" width="32" height="1.3" fill="#8a8a92"/><rect x="186" y="449.5" width="25" height="0.7" fill="#404046"/><rect x="230.3" y="436.7" width="33.5" height="16.8" fill="#ebebee" stroke="#d0d0d4" stroke-width="0.4"/><rect x="232" y="437.4" width="26" height="0.9" fill="#8a8a96"/><rect x="232.0" y="440.2" width="4.6" height="2.1" fill="#d6b8c0"/><rect x="238.2" y="440.2" width="4.6" height="2.1" fill="#b8c8c0"/><rect x="244.4" y="440.2" width="4.6" height="2.1" fill="#d0d0d6"/><rect x="250.6" y="440.2" width="4.6" height="2.1" fill="#d0d0d6"/><rect x="256.8" y="440.2" width="4.6" height="2.1" fill="#d0d0d6"/><rect x="232.0" y="443.3" width="4.6" height="2.1" fill="#d6b8c0"/><rect x="238.2" y="443.3" width="4.6" height="2.1" fill="#b8c8c0"/><rect x="244.4" y="443.3" width="4.6" height="2.1" fill="#d0d0d6"/><rect x="250.6" y="443.3" width="4.6" height="2.1" fill="#d0d0d6"/><rect x="256.8" y="443.3" width="4.6" height="2.1" fill="#d0d0d6"/><rect x="232.0" y="446.4" width="4.6" height="2.1" fill="#d6b8c0"/><rect x="238.2" y="446.4" width="4.6" height="2.1" fill="#d0d0d6"/><rect x="244.4" y="446.4" width="4.6" height="2.1" fill="#d0d0d6"/><rect x="250.6" y="446.4" width="4.6" height="2.1" fill="#d0d0d6"/><rect x="256.8" y="446.4" width="4.6" height="2.1" fill="#d0d0d6"/><rect x="232.0" y="449.5" width="4.6" height="2.1" fill="#d0d0d6"/><rect x="238.2" y="449.5" width="4.6" height="2.1" fill="#d0d0d6"/><rect x="244.4" y="449.5" width="4.6" height="2.1" fill="#d0d0d6"/><rect x="250.6" y="449.5" width="4.6" height="2.1" fill="#d0d0d6"/><rect x="256.8" y="449.5" width="4.6" height="2.1" fill="#d0d0d6"/><rect x="258.2" y="449.6" width="4.4" height="2.2" fill="#e2a868"/><rect x="264" y="436.7" width="26" height="16.8" fill="#ececee"/><rect x="265" y="439" width="23" height="0.8" fill="#c8c8cc"/><rect x="265.5" y="446" width="2.5" height="6" fill="#c8d8e4"/><circle cx="273.8" cy="449.2" r="3.4" fill="#d6d6da"/><path d="M274.3,446 a3.2,3.2 0 0 1 0,6.4 z" fill="#9a9a9e"/><circle cx="284.4" cy="449.2" r="3.4" fill="#d6d6da"/><path d="M284.9,446 a3.2,3.2 0 0 1 0,6.4 z" fill="#9a9a9e"/><rect x="162.5" y="457.7" width="125.2" height="16.4" fill="#a6a6ae"/><rect x="162.5" y="458.00" width="125.2" height="1.17" fill="#74747c"/><rect x="162.5" y="459.88" width="125.2" height="0.97" fill="#d8d8dc"/><rect x="162.5" y="461.25" width="125.2" height="1.17" fill="#74747c"/><rect x="162.5" y="463.13" width="125.2" height="0.97" fill="#d8d8dc"/><rect x="162.5" y="464.50" width="125.2" height="1.17" fill="#74747c"/><rect x="162.5" y="466.38" width="125.2" height="0.97" fill="#d8d8dc"/><rect x="162.5" y="467.75" width="125.2" height="1.17" fill="#74747c"/><rect x="162.5" y="469.63" width="125.2" height="0.97" fill="#d8d8dc"/><rect x="162.5" y="471.00" width="125.2" height="1.17" fill="#74747c"/><rect x="162.5" y="472.88" width="125.2" height="0.97" fill="#d8d8dc"/><rect x="182.67" y="457.7" width="1.4" height="16.4" fill="#d8d8dc"/><rect x="203.53" y="457.7" width="1.4" height="16.4" fill="#d8d8dc"/><rect x="224.40" y="457.7" width="1.4" height="16.4" fill="#d8d8dc"/><rect x="245.27" y="457.7" width="1.4" height="16.4" fill="#d8d8dc"/><rect x="266.13" y="457.7" width="1.4" height="16.4" fill="#d8d8dc"/><rect x="166" y="475.5" width="8" height="4.5" rx="1" fill="#2a2a2c"/><rect x="274" y="475.5" width="9.8" height="4.5" rx="1" fill="#2a2a2c"/><text x="162.5" y="442" font-size="3.6" font-weight="bold" fill="#4a4a50" textLength="10" lengthAdjust="spacingAndGlyphs">Chroma</text><rect x="162.5" y="445.5" width="10" height="2.2" fill="#d4d4d8"/></g><g id="dev2"><polygon points="338.5,423.2 440,423.2 456.6,432.9 317.3,433.6" fill="#e0e0e2"/><rect x="317.3" y="433.2" width="140" height="43.5" fill="#dedee0"/><rect x="317.3" y="433.2" width="140" height="43.5" fill="none" stroke="#c4c4c6" stroke-width="0.6"/><rect x="321.3" y="435.8" width="130.7" height="17.2" fill="#a6a6ae"/><rect x="321.3" y="436.10" width="130.7" height="1.03" fill="#74747c"/><rect x="321.3" y="437.75" width="130.7" height="0.85" fill="#d8d8dc"/><rect x="321.3" y="438.95" width="130.7" height="1.03" fill="#74747c"/><rect x="321.3" y="440.60" width="130.7" height="0.85" fill="#d8d8dc"/><rect x="321.3" y="441.80" width="130.7" height="1.03" fill="#74747c"/><rect x="321.3" y="443.45" width="130.7" height="0.85" fill="#d8d8dc"/><rect x="321.3" y="444.65" width="130.7" height="1.03" fill="#74747c"/><rect x="321.3" y="446.30" width="130.7" height="0.85" fill="#d8d8dc"/><rect x="321.3" y="447.50" width="130.7" height="1.03" fill="#74747c"/><rect x="321.3" y="449.15" width="130.7" height="0.85" fill="#d8d8dc"/><rect x="321.3" y="450.35" width="130.7" height="1.03" fill="#74747c"/><rect x="321.3" y="452.00" width="130.7" height="0.85" fill="#d8d8dc"/><rect x="342.38" y="435.8" width="1.4" height="17.2" fill="#d8d8dc"/><rect x="364.17" y="435.8" width="1.4" height="17.2" fill="#d8d8dc"/><rect x="385.95" y="435.8" width="1.4" height="17.2" fill="#d8d8dc"/><rect x="407.73" y="435.8" width="1.4" height="17.2" fill="#d8d8dc"/><rect x="429.52" y="435.8" width="1.4" height="17.2" fill="#d8d8dc"/><rect x="321.3" y="457.7" width="130.7" height="17.3" fill="#a6a6ae"/><rect x="321.3" y="458.00" width="130.7" height="1.03" fill="#74747c"/><rect x="321.3" y="459.65" width="130.7" height="0.85" fill="#d8d8dc"/><rect x="321.3" y="460.85" width="130.7" height="1.03" fill="#74747c"/><rect x="321.3" y="462.50" width="130.7" height="0.85" fill="#d8d8dc"/><rect x="321.3" y="463.70" width="130.7" height="1.03" fill="#74747c"/><rect x="321.3" y="465.35" width="130.7" height="0.85" fill="#d8d8dc"/><rect x="321.3" y="466.55" width="130.7" height="1.03" fill="#74747c"/><rect x="321.3" y="468.20" width="130.7" height="0.85" fill="#d8d8dc"/><rect x="321.3" y="469.40" width="130.7" height="1.03" fill="#74747c"/><rect x="321.3" y="471.05" width="130.7" height="0.85" fill="#d8d8dc"/><rect x="321.3" y="472.25" width="130.7" height="1.03" fill="#74747c"/><rect x="321.3" y="473.90" width="130.7" height="0.85" fill="#d8d8dc"/><rect x="342.38" y="457.7" width="1.4" height="17.3" fill="#d8d8dc"/><rect x="364.17" y="457.7" width="1.4" height="17.3" fill="#d8d8dc"/><rect x="385.95" y="457.7" width="1.4" height="17.3" fill="#d8d8dc"/><rect x="407.73" y="457.7" width="1.4" height="17.3" fill="#d8d8dc"/><rect x="429.52" y="457.7" width="1.4" height="17.3" fill="#d8d8dc"/><rect x="326" y="476.8" width="10.5" height="4" rx="1" fill="#2a2a2c"/><rect x="438" y="476.8" width="10" height="4" rx="1" fill="#2a2a2c"/></g><g font-size="9.6" fill="#6c6c6c" stroke="#6c6c6c" stroke-width="0.15">
<text x="20.8" y="509.9" textLength="107" lengthAdjust="spacingAndGlyphs">150kW Solar Array Simulator</text>
<text x="235" y="400.8" textLength="126" lengthAdjust="spacingAndGlyphs">15~60kW Commercial PV Inverter</text>
<text x="174" y="497" textLength="104" lengthAdjust="spacingAndGlyphs">Model 62150H-600S/1000S</text>
<text x="190.2" y="511.5" textLength="70" lengthAdjust="spacingAndGlyphs">600V/1000V/15kW</text>
<text x="319" y="497" textLength="137" lengthAdjust="spacingAndGlyphs">Model A620027/A620028 Slave Unit</text>
<text x="352.5" y="510.9" textLength="69.5" lengthAdjust="spacingAndGlyphs">600V/1000V/15kW</text>
</g><g id="logo"><path fill-rule="evenodd" d="M420.6,520.3 L441,490.5 C444,486.5 447.5,484.3 451,484 L476.3,482 C472,491 467.5,501 464.3,511 C472,510.5 480,509.5 487,506.5 C490.5,505 493.5,503 495.5,501.6 C492,507 486,512 478,516 L472,520.3 Z M451.9,493.3 C454,492.5 456.5,492 459.3,491.8 C457,496.5 454,502 451.5,506.5 L442.3,506.3 C445,501.5 448,496.5 451.9,493.3 Z" fill="url(#gLogoA)"/><path d="M424.2,520.3 L442.5,493 C444,490.5 446,488.5 448,487.4" stroke="#ffffff" stroke-width="0.7" stroke-opacity="0.8" fill="none"/><text x="442.5" y="520.5" font-size="10.3" font-weight="bold" font-style="italic" fill="#ffffff" stroke="#ffffff" stroke-width="1.8" textLength="46" lengthAdjust="spacingAndGlyphs">CCEXP</text><text x="442.5" y="520.5" font-size="10.3" font-weight="bold" font-style="italic" fill="#cc1024" stroke="#cc1024" stroke-width="0.5" textLength="46" lengthAdjust="spacingAndGlyphs">CCEXP</text><g stroke="#d81e2a" fill="none" stroke-width="3" stroke-linecap="butt"><path d="M502.4,486.2 H527 M508.2,483 V489 M519.3,483 V489 M521.7,490 L504,500.4 M507.2,490 L526.2,500.4"/><path d="M532,485.9 H556 M544,482.6 V489 M540.5,495.3 C540,498 537,500 532,501 M547.3,495.3 V498.8 C547.3,500.2 548.5,500.4 556,500.2"/><rect x="536.3" y="489.8" width="15.4" height="4.8" stroke-width="2.2"/><path d="M572.5,482.4 V485 M560.8,489 V485.6 H583.2 V489 M562.5,488.4 H581.5 M560,491.1 H584 M562.5,493.6 H581.5 M567.4,486.8 V493.5 M576.6,486.8 V493.5" stroke-width="2.3"/><path d="M565.8,494.9 H578.2 V498.6 H565.8 Z M567.5,499.8 L560.2,501.2 M576.5,499.8 L583.8,501.2" stroke-width="2.2"/><path d="M595.2,482.6 L596.8,485 M608.3,482.6 L606.7,485 M589.8,485.5 H614.2 M596,487.3 V491 M600,486.8 V491 M604,486.8 V491 M608,487.3 V491 M589.5,491.3 H614.5" stroke-width="2.3"/><path d="M592.6,493.6 H611.2 V499.8 H592.6 Z M592.6,496.7 H611.2" stroke-width="2.1"/></g><g stroke="#3c3c3c" fill="none" stroke-width="1.1"><path d="M501,504 l1,1 M500.5,507 l1,1 M500.5,510.5 l1.5,-2.5 M503,503.5 v5.5 h2.2 v-5.5 z M504.1,505 v3 M503,510.5 l1,-1.5 M505.2,510.5 l-1,-1.5 M506.8,503.5 v7"/><path d="M509,504 l1,1 M509,506.5 h1.2 v3.8 l1,-1 M511.5,505 h5 M513.5,503 q0,5 3,7.5 M512,507.5 h2.5 M513.2,507.5 v2.5 l-1.5,0.4 M515.8,503.5 l0.6,0.8"/><path d="M531.5,503 l-1.5,3.5 M531,505 v5.8 M534.5,503.5 l0.6,1 M533,505.5 q2,3.5 4.6,5 M537,505 q-1.8,4 -4.5,5.5"/><path d="M539,503.5 h2.5 v2 h-2.5 z M543.5,503.5 h2.5 v2 h-2.5 z M538.6,506.8 h8 M542.5,505.8 l-3.5,2.5 M542.5,505.8 l3.5,2.5 M539,508.5 h2.5 v2 h-2.5 z M543.5,508.5 h2.5 v2 h-2.5 z"/><path d="M561.5,504 h6.8 M564.9,504 v6.3 M561.2,510.3 h7.2"/><path d="M570.5,505.5 h2.4 M571.7,503 v7.8 l-1,-0.5 M570.5,508.8 l2.5,-1.5 M575.5,503 v1 M573.5,504.3 h4.7 v1 M575,505.6 l-1.2,1.4 M576.5,505.6 l1.4,1.4 M574,508 h3.8 M576,508 v2.5 M573.3,510.6 h5"/><path d="M595,503 l-1.5,2 M594.5,504.5 v3 M594.5,504.3 h5.5 M596.5,503 v4.5 M594.5,505.8 h5.5 M594.5,507.3 h6 M593,508.8 h8 M597,508 v3 M596.5,509 l-3,2 M597.5,509 l3,2"/><path d="M604,504.5 h7.5 M604.5,504.5 v3 q0,2.5 -1.5,3.5 M604.5,507 h2.6 v2.5 M608,503 q0.5,5 3.5,7.8 M611,506 q-1.5,3 -4,4.8 M610,503 l0.8,0.8"/></g><g fill="#3c3c3c"><circle cx="523.7" cy="507" r="0.8"/><circle cx="554.4" cy="507" r="0.8"/><circle cx="586.1" cy="507" r="0.8"/></g><text x="500" y="519.8" font-size="12.2" font-weight="bold" fill="#111" stroke="#111" stroke-width="0.35" textLength="113" lengthAdjust="spacingAndGlyphs">www.accexp.net</text></g></svg>
</body></html>
